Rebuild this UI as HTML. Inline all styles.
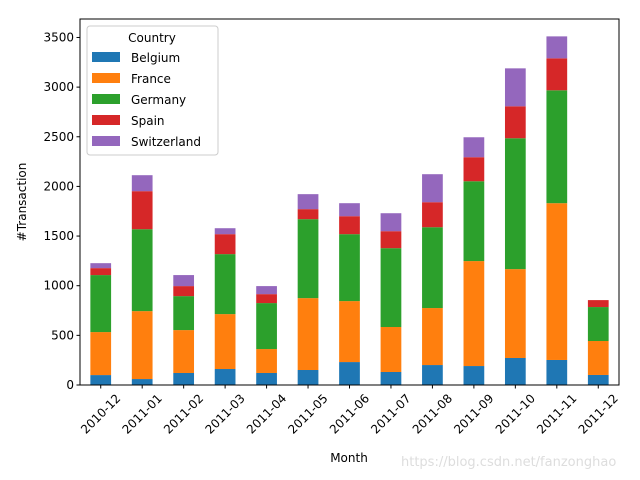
<!DOCTYPE html>
<html><head><meta charset="utf-8"><style>body{margin:0;background:#fff}svg{display:block;font-family:"DejaVu Sans","Liberation Sans",sans-serif}</style></head>
<body>
<svg id="c" width="640" height="480"></svg>
<script>
const categories=["2010-12","2011-01","2011-02","2011-03","2011-04","2011-05","2011-06","2011-07","2011-08","2011-09","2011-10","2011-11","2011-12"];
const seriesNames=["Belgium","France","Germany","Spain","Switzerland"];
const belgium=[100,60,121,161,121,151,231,131,201,191,272,252,101];
const france=[433,684,432,553,241,724,614,453,574,1057,895,1579,342];
const germany=[574,825,342,604,463,795,674,794,814,804,1318,1137,342];
const spain=[70,383,101,201,90,101,181,171,252,242,322,322,70];
const switzerland=[50,161,111,60,81,151,131,181,282,201,382,221,0];
const yTicks=[0,500,1000,1500,2000,2500,3000,3500];
const colors=["#1f77b4","#ff7f0e","#2ca02c","#d62728","#9467bd"];
const series=[belgium,france,germany,spain,switzerland];
const NS="http://www.w3.org/2000/svg";const svg=document.getElementById('c');
const L=80,R=619,T=19,B=385,yMax=3686;
const y=v=>B-(v/yMax)*(B-T);
const step=(R-L)/categories.length;const x=i=>L+step*(i+0.5);const bw=step*0.5;
function el(t,a,txt){const e=document.createElementNS(NS,t);for(const k in a)e.setAttribute(k,a[k]);if(txt!=null)e.textContent=txt;svg.appendChild(e);return e;}
categories.forEach((c,i)=>{let base=0;series.forEach((s,j)=>{const v=s[i];if(v>0){const r=el('rect',{x:x(i)-bw/2,y:y(base+v),width:bw,height:y(base)-y(base+v),fill:colors[j]});

}base+=v;});});
el('rect',{x:L,y:T,width:R-L,height:B-T,fill:'none',stroke:'#000','stroke-width':1});
yTicks.forEach(t=>{el('line',{x1:L-3.5,x2:L,y1:y(t),y2:y(t),stroke:'#000'});const tx=el('text',{x:L-6,y:y(t)+4,'text-anchor':'end','font-size':'12'},t);

});
categories.forEach((c,i)=>{el('line',{x1:x(i),x2:x(i),y1:B,y2:B+3.5,stroke:'#000'});const cx=x(i),cy=B+29;const tx=el('text',{x:cx,y:cy+4,'text-anchor':'middle','font-size':'12',transform:`rotate(-45 ${cx} ${cy})`},c);

});
</script>
<svg width="640" height="480" style="position:absolute;left:0;top:0;font-family:'DejaVu Sans','Liberation Sans',sans-serif">
<text x="349" y="462" text-anchor="middle" font-size="12">Month</text>
<text x="26" y="202" text-anchor="middle" font-size="12" transform="rotate(-90 26 202)">#Transaction</text>
<g>
<rect x="87" y="26" width="131" height="129" rx="3" fill="#fff" fill-opacity="0.8" stroke="#ccc"/>
<text x="152" y="42" text-anchor="middle" font-size="12">Country</text>
<rect x="92" y="52" width="28" height="10" fill="#1f77b4"/><text x="131" y="62" font-size="12">Belgium</text>
<rect x="92" y="73" width="28" height="10" fill="#ff7f0e"/><text x="131" y="83" font-size="12">France</text>
<rect x="92" y="94" width="28" height="10" fill="#2ca02c"/><text x="131" y="104" font-size="12">Germany</text>
<rect x="92" y="115" width="28" height="10" fill="#d62728"/><text x="131" y="125" font-size="12">Spain</text>
<rect x="92" y="136" width="28" height="10" fill="#9467bd"/><text x="131" y="146" font-size="12">Switzerland</text>
</g>
<text x="401" y="466" font-size="13" fill="#ddd">https://blog.csdn.net/fanzonghao</text>
</svg>
</body></html>
